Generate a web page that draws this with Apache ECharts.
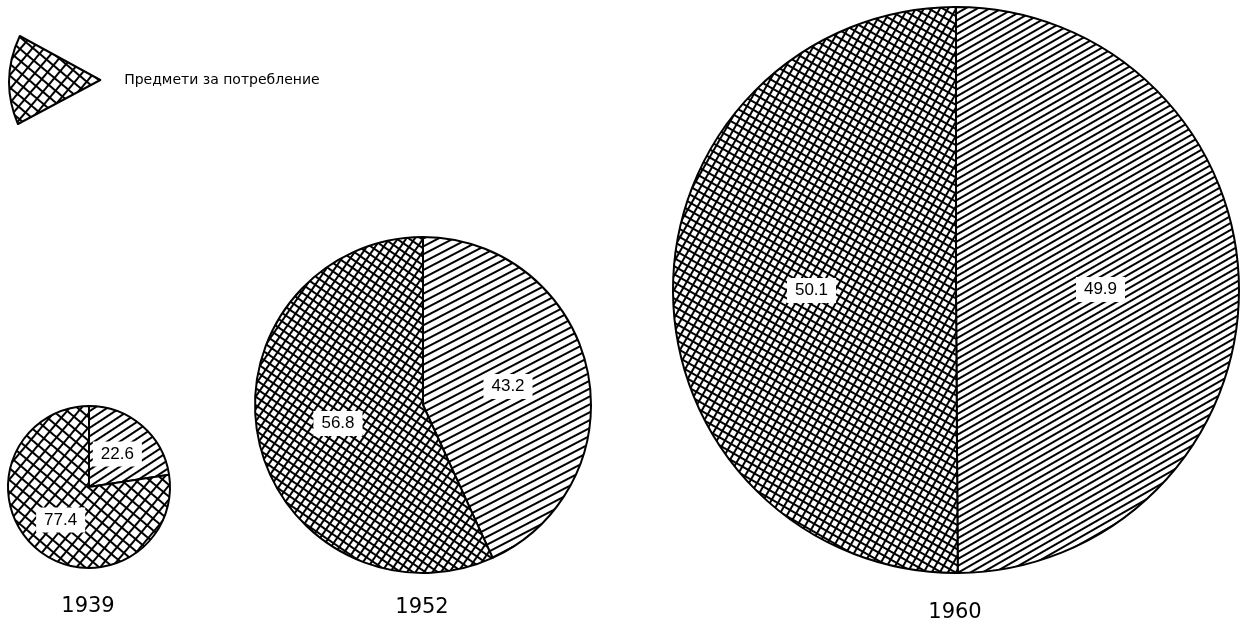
<!DOCTYPE html>
<html>
<head>
<meta charset="utf-8">
<script src="https://cdn.jsdelivr.net/npm/echarts@6/dist/echarts.min.js"></script>
<style>
  html, body { margin: 0; padding: 0; background: #fff; }
  #chart { width: 1245px; height: 627px; }
</style>
</head>
<body>
<div id="chart"></div>
<script>
// data
const years = ['1939', '1952', '1960']
const categories = ['Средства за производство', 'Предмети за потребление']
const production = [22.6, 43.2, 49.9]   // hatched slice
const consumption = [77.4, 56.8, 50.1]  // cross-hatched slice

// pie placement (px): center x, center y, radius
const pieCx = [89, 423, 956]
const pieCy = [487, 405, 290]
const pieR = [81, 168, 283]

// pattern look per pie: grid period, grid angle, hatch period, hatch angle (whole px periods, no moire)
const crossPeriod = [9, 7, 7]
const crossAngle = [0.7, 0.6, 0.52]
const hatchPeriod = [7, 7, 6]
const hatchAngle = [-0.58, -0.48, -0.52]

function grid(p, lw) {
  const c = document.createElement('canvas')
  c.width = c.height = p
  const ctx = c.getContext('2d')
  ctx.fillStyle = '#fff'
  ctx.fillRect(0, 0, p, p)
  ctx.fillStyle = '#000'
  ctx.fillRect(0, 0, p, lw)
  ctx.fillRect(0, 0, lw, p)
  return c
}

function lines(p, lw) {
  const c = document.createElement('canvas')
  c.width = c.height = p
  const ctx = c.getContext('2d')
  ctx.fillStyle = '#fff'
  ctx.fillRect(0, 0, p, p)
  ctx.fillStyle = '#000'
  ctx.fillRect(0, 0, p, lw)
  return c
}

const chart = echarts.init(document.getElementById('chart'))

const series = years.map((y, i) => ({
  name: y,
  type: 'pie',
  center: [pieCx[i], pieCy[i]],
  radius: pieR[i],
  startAngle: 90,
  clockwise: true,
  silent: true,
  avoidLabelOverlap: false,
  itemStyle: { borderColor: '#000', borderWidth: 2 },
  label: {
    show: true,
    position: 'inside',
    formatter: '{c}',
    color: '#000',
    fontFamily: 'Liberation Sans',
    fontSize: 17,
    backgroundColor: '#fff',
    padding: [4, 8]
  },
  labelLine: { show: false },
  emphasis: { disabled: true },
  data: [
    { name: categories[0], value: production[i],
      itemStyle: { color: { image: lines(hatchPeriod[i], 2), repeat: 'repeat', rotation: hatchAngle[i] } } },
    { name: categories[1], value: consumption[i],
      itemStyle: { color: { image: grid(crossPeriod[i], 2), repeat: 'repeat', rotation: crossAngle[i] } } }
  ]
}))

chart.setOption({
  animation: false,
  backgroundColor: '#fff',
  legend: {
    data: [categories[1]],
    left: 8,
    top: 35,
    padding: 0,
    selectedMode: false,
    icon: 'path://M100,47 L14,0 Q-8,47 12,94 Z',
    itemWidth: 97,
    itemHeight: 88,
    itemStyle: { borderColor: '#000', borderWidth: 2 },
    textStyle: {
      color: '#000',
      fontFamily: 'DejaVu Sans',
      fontSize: 14,
      padding: [0, 0, 0, 16]
    }
  },
  graphic: years.map((y, i) => ({
    type: 'text',
    x: [88, 422, 955][i],
    y: [607, 608, 613][i],
    silent: true,
    style: {
      text: y,
      align: 'center',
      verticalAlign: 'middle',
      fill: '#000',
      font: '21px "DejaVu Sans"'
    }
  })),
  series: series
})
</script>
</body>
</html>
